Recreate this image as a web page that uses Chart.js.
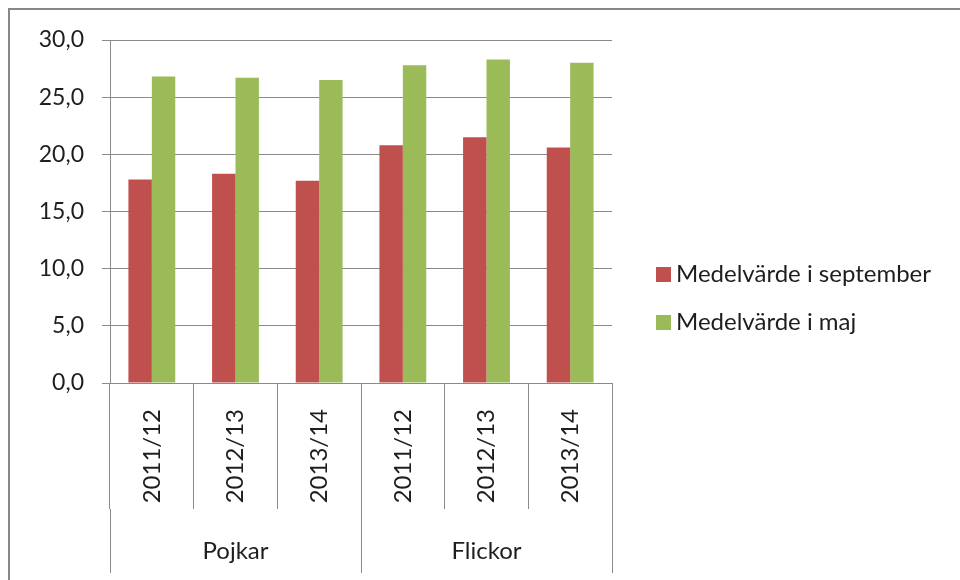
<!DOCTYPE html>
<html>
<head>
<meta charset="utf-8">
<script src="https://cdn.jsdelivr.net/npm/chart.js@4.4.0/dist/chart.umd.min.js"></script>
<style>
  html, body { margin: 0; padding: 0; background: #fff; }
  #wrap { position: relative; width: 960px; height: 580px; overflow: hidden; }
  #frame { position: absolute; left: 8px; top: 8px; width: 980px; height: 600px; border-top: 2px solid #878787; border-left: 2px solid #878787; }
  canvas { position: absolute; left: 0; top: 0; }
  #legend { position: absolute; left: 656px; top: 0; font-family: Lato, "Liberation Sans", sans-serif; font-size: 24px; color: #1e1e1e; }
  #legend .item { position: absolute; left: 0; white-space: nowrap; line-height: 24px; }
  #legend .box { display: inline-block; width: 15px; height: 15px; margin-right: 5px; vertical-align: baseline; }
</style>
</head>
<body>
<div id="wrap">
  <div id="frame"></div>
  <canvas id="chart" width="960" height="580"></canvas>
  <div id="legend"></div>
</div>
<script>
// Läsåren per grupp (Pojkar, Flickor)
const seasons = ['2011/12', '2012/13', '2013/14', '2011/12', '2012/13', '2013/14'];
const groups = ['Pojkar', 'Flickor'];
const september = [17.8, 18.3, 17.7, 20.8, 21.5, 20.6];
const maj = [26.8, 26.7, 26.5, 27.8, 28.3, 28.0];
const yTicks = [0, 5, 10, 15, 20, 25, 30];

const gray = '#8a8a8a';
const textColor = '#1e1e1e';

Chart.defaults.font.family = 'Lato, "Liberation Sans", sans-serif';
Chart.defaults.font.size = 24;
Chart.defaults.color = textColor;

const ctx = document.getElementById('chart').getContext('2d');
const chart = new Chart(ctx, {
    type: 'bar',
    data: {
        labels: seasons,
        datasets: [
            {
                label: 'Medelvärde i september',
                data: september,
                backgroundColor: '#C0504D',
                categoryPercentage: 0.56,
                barPercentage: 1
            },
            {
                label: 'Medelvärde i maj',
                data: maj,
                backgroundColor: '#9BBB59',
                categoryPercentage: 0.56,
                barPercentage: 1
            }
        ]
    },
    options: {
        responsive: false,
        animation: false,
        layout: { padding: { left: 30, top: 40, right: 348, bottom: 7 } },
        plugins: {
            legend: { display: false },
            tooltip: { enabled: false }
        },
        scales: {
            x: {
                offset: true,
                grid: { offset: true, drawOnChartArea: false, tickLength: 126, color: gray },
                border: { color: gray },
                ticks: { autoSkip: false, minRotation: 90, maxRotation: 90, padding: -100 },
                afterFit: s => { s.height = 126; }
            },
            group: {
                type: 'category',
                labels: groups,
                position: 'bottom',
                offset: true,
                grid: { offset: true, drawOnChartArea: false, tickLength: 64, color: gray },
                border: { display: false },
                ticks: { autoSkip: false, padding: -36 },
                afterFit: s => { s.height = 64; }
            },
            y: {
                min: 0,
                max: 30,
                afterBuildTicks: s => { s.ticks = yTicks.map(v => ({ value: v })); },
                ticks: { padding: 18, font: { size: 23 }, callback: v => v.toFixed(1).replace('.', ',') },
                grid: { color: gray, tickLength: 8 },
                border: { color: gray },
                afterFit: s => { s.width = 80; }
            }
        }
    }
});

// legend beside the plot, built from the datasets
const legendTops = [261, 309];
const legend = document.getElementById('legend');
chart.data.datasets.forEach((ds, i) => {
    const item = document.createElement('div');
    item.className = 'item';
    item.style.top = legendTops[i] + 'px';
    const box = document.createElement('span');
    box.className = 'box';
    box.style.background = ds.backgroundColor;
    item.appendChild(box);
    item.appendChild(document.createTextNode(ds.label));
    legend.appendChild(item);
});
</script>
</body>
</html>
